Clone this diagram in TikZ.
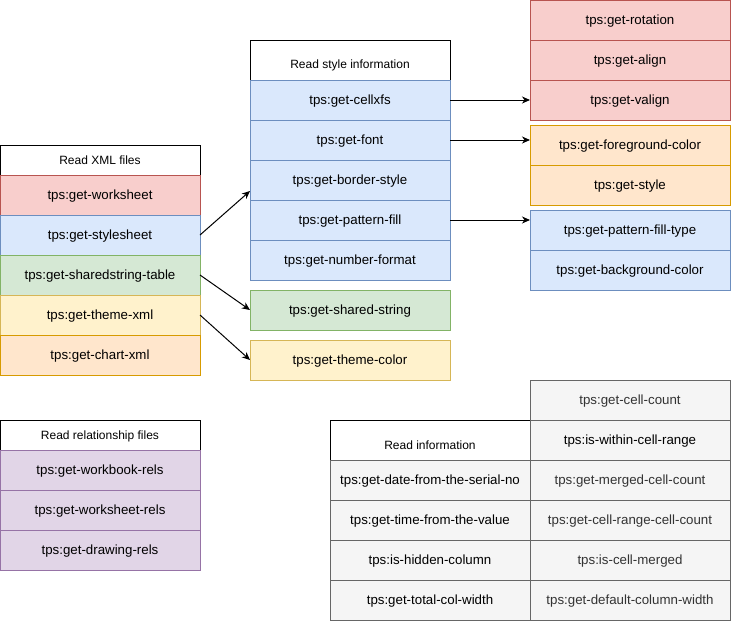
\documentclass[tikz,border=0pt]{standalone}
\usepackage{fontspec}
\setmainfont{Liberation Sans}
\usetikzlibrary{arrows.meta,calc}
\definecolor{redF}{HTML}{F8CECC}\definecolor{redS}{HTML}{B85450}
\definecolor{bluF}{HTML}{DAE8FC}\definecolor{bluS}{HTML}{6C8EBF}
\definecolor{grnF}{HTML}{D5E8D4}\definecolor{grnS}{HTML}{82B366}
\definecolor{yelF}{HTML}{FFF2CC}\definecolor{yelS}{HTML}{D6B656}
\definecolor{ornF}{HTML}{FFE6CC}\definecolor{ornS}{HTML}{D79B00}
\definecolor{purF}{HTML}{E1D5E7}\definecolor{purS}{HTML}{9673A6}
\definecolor{gryF}{HTML}{F5F5F5}\definecolor{gryS}{HTML}{666666}
\definecolor{gryT}{HTML}{333333}
\tikzset{
  cell/.style={rectangle, draw, anchor=north west, minimum width=200pt, minimum height=40pt,
    inner sep=0pt, outer sep=0pt, line width=1pt, text height=11.5pt, text depth=2pt,
    font=\fontsize{13.3pt}{15pt}\selectfont},
  hdr/.style={cell, fill=white, draw=black, minimum height=30pt, text height=11.5pt, text depth=2pt,
    font=\fontsize{12pt}{14pt}\selectfont},
  lbl/.style={font=\fontsize{12pt}{14pt}\selectfont, inner sep=0pt},
  red/.style={cell, fill=redF, draw=redS},
  blu/.style={cell, fill=bluF, draw=bluS},
  grn/.style={cell, fill=grnF, draw=grnS},
  yel/.style={cell, fill=yelF, draw=yelS},
  orn/.style={cell, fill=ornF, draw=ornS},
  pur/.style={cell, fill=purF, draw=purS},
  gry/.style={cell, fill=gryF, draw=gryS},
  gryt/.style={gry, text=gryT},
  arr/.style={-{Stealth[length=8pt,width=7pt,inset=2.5pt]}, line width=1pt, black},
}
\begin{document}
\begin{tikzpicture}[x=1pt,y=-1pt]
\useasboundingbox (0,0) rectangle (731,621);
% Read XML files
\node[hdr] (xmlh) at (0,145) {Read XML files};
\node[red] (ws) at (0,175) {tps:get-worksheet};
\node[blu] (ss) at (0,215) {tps:get-stylesheet};
\node[grn] (sst) at (0,255) {tps:get-sharedstring-table};
\node[yel] (thx) at (0,295) {tps:get-theme-xml};
\node[orn] (chx) at (0,335) {tps:get-chart-xml};
% Read style information
\node[hdr, minimum height=40pt] (styh) at (250,40) {};
\node[lbl] (stylbl) at (350,65) {Read style information};
\node[blu] (cx) at (250,80) {tps:get-cellxfs};
\node[blu] (fnt) at (250,120) {tps:get-font};
\node[blu] (bs) at (250,160) {tps:get-border-style};
\node[blu] (pf) at (250,200) {tps:get-pattern-fill};
\node[blu] (nf) at (250,240) {tps:get-number-format};
\node[grn] (shs) at (250,290) {tps:get-shared-string};
\node[yel] (thc) at (250,340) {tps:get-theme-color};
% right groups
\node[red] (rot) at (530,0) {tps:get-rotation};
\node[red] (aln) at (530,40) {tps:get-align};
\node[red] (valn) at (530,80) {tps:get-valign};
\node[orn] (fgc) at (530,125) {tps:get-foreground-color};
\node[orn] (sty) at (530,165) {tps:get-style};
\node[blu] (pft) at (530,210) {tps:get-pattern-fill-type};
\node[blu] (bgc) at (530,250) {tps:get-background-color};
% Read relationship files
\node[hdr] (relh) at (0,420) {Read relationship files};
\node[pur] (wbr) at (0,450) {tps:get-workbook-rels};
\node[pur] (wsr) at (0,490) {tps:get-worksheet-rels};
\node[pur] (drr) at (0,530) {tps:get-drawing-rels};
% Read information
\node[hdr, minimum height=40pt] (infh) at (330,420) {};
\node[lbl] (inflbl) at (430,445) {Read information};
\node[gry] (dfs) at (330,460) {tps:get-date-from-the-serial-no};
\node[gry] (tfv) at (330,500) {tps:get-time-from-the-value};
\node[gry] (hcol) at (330,540) {tps:is-hidden-column};
\node[gry] (tcw) at (330,580) {tps:get-total-col-width};
\node[gryt] (gcc) at (530,380) {tps:get-cell-count};
\node[gry] (wcr) at (530,420) {tps:is-within-cell-range};
\node[gryt] (gmc) at (530,460) {tps:get-merged-cell-count};
\node[gryt] (crc) at (530,500) {tps:get-cell-range-cell-count};
\node[gryt] (icm) at (530,540) {tps:is-cell-merged};
\node[gryt] (dcw) at (530,580) {tps:get-default-column-width};
% connectors
\coordinate (t1) at (250,191);
\draw[arr] (ss.east) -- (t1);
\draw[arr] (sst.east) -- (shs.west);
\draw[arr] (thx.east) -- (thc.west);
\draw[arr] (cx.east) -- (valn.west);
\draw[arr] (fnt.east) -- (fnt.east -| fgc.west);
\draw[arr] (pf.east) -- (pf.east -| pft.west);
\end{tikzpicture}
\end{document}
